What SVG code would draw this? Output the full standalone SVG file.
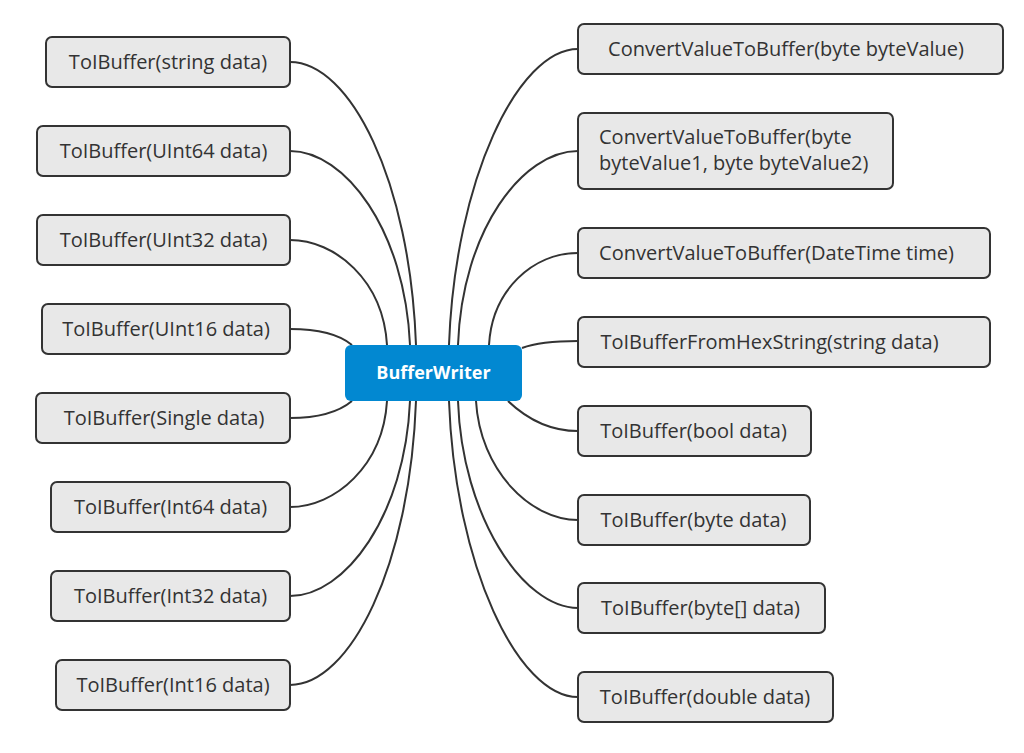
<svg xmlns="http://www.w3.org/2000/svg" width="1024" height="753" viewBox="0 0 1024 753">
<style>
.n rect{fill:#e8e8e8;stroke:#333;stroke-width:2}
.n text{font-family:"Open Sans","Noto Sans",sans-serif;font-size:20px;fill:#333;text-anchor:middle;dominant-baseline:central}
.c path{fill:none;stroke:#333;stroke-width:2}
</style>
<rect width="1024" height="753" fill="#fff"/>
<g class="c" id="connectors">
<path d="M290,62 C350,62 410,180 416,345"/>
<path d="M290,151 C345,151 405,230 410,345"/>
<path d="M290,240 C335,240 383,280 387,345"/>
<path d="M290,329 C320,329 340,335 352,345"/>
<path d="M290,418 C320,418 340,411 352,401"/>
<path d="M290,507 C335,507 383,466 387,401"/>
<path d="M290,596 C345,596 405,516 410,401"/>
<path d="M290,685 C350,685 410,566 416,401"/>
<path d="M578,49 C518,49 455,180 449,345"/>
<path d="M578,151 C523,151 462,230 458,345"/>
<path d="M578,253 C533,253 492,290 489,345"/>
<path d="M578,341 C550,341 535,343 522,348"/>
<path d="M578,431 C550,431 528,420 508,401"/>
<path d="M578,520 C530,520 480,470 476,401"/>
<path d="M578,608 C523,608 462,516 458,401"/>
<path d="M578,697 C518,697 455,566 449,401"/>
</g>
<g id="center">
<rect x="345" y="345" width="177" height="56" rx="6" fill="#0288d1"/>
<text x="433.5" y="371.5" font-family="'Open Sans','Noto Sans',sans-serif" font-size="18" font-weight="bold" fill="#fff" text-anchor="middle" dominant-baseline="central">BufferWriter</text>
</g>
<g class="n" id="l1"><rect x="46" y="37" width="244" height="50" rx="6"/><text x="168" y="61">ToIBuffer(string data)</text></g>
<g class="n" id="l2"><rect x="37" y="126" width="253" height="50" rx="6"/><text x="163.5" y="150">ToIBuffer(UInt64 data)</text></g>
<g class="n" id="l3"><rect x="37" y="215" width="253" height="50" rx="6"/><text x="163.5" y="239">ToIBuffer(UInt32 data)</text></g>
<g class="n" id="l4"><rect x="42" y="304" width="248" height="50" rx="6"/><text x="166" y="328">ToIBuffer(UInt16 data)</text></g>
<g class="n" id="l5"><rect x="36" y="393" width="254" height="50" rx="6"/><text x="164" y="417">ToIBuffer(Single data)</text></g>
<g class="n" id="l6"><rect x="51" y="482" width="239" height="50" rx="6"/><text x="170.5" y="506">ToIBuffer(Int64 data)</text></g>
<g class="n" id="l7"><rect x="51" y="571" width="239" height="50" rx="6"/><text x="170.5" y="595">ToIBuffer(Int32 data)</text></g>
<g class="n" id="l8"><rect x="56" y="660" width="234" height="50" rx="6"/><text x="173" y="684">ToIBuffer(Int16 data)</text></g>
<g class="n" id="r1"><rect x="578" y="24" width="425" height="50" rx="6"/><text x="786" y="48">ConvertValueToBuffer(byte byteValue)</text></g>
<g class="n" id="r2"><rect x="578" y="113" width="315" height="76" rx="6"/><text x="599" y="136" style="text-anchor:start">ConvertValueToBuffer(byte</text><text x="599" y="162" style="text-anchor:start">byteValue1, byte byteValue2)</text></g>
<g class="n" id="r3"><rect x="578" y="228" width="412" height="50" rx="6"/><text x="776.5" y="252">ConvertValueToBuffer(DateTime time)</text></g>
<g class="n" id="r4"><rect x="578" y="317" width="412" height="50" rx="6"/><text x="769.5" y="341">ToIBufferFromHexString(string data)</text></g>
<g class="n" id="r5"><rect x="578" y="406" width="233" height="50" rx="6"/><text x="693.5" y="430">ToIBuffer(bool data)</text></g>
<g class="n" id="r6"><rect x="578" y="495" width="232" height="50" rx="6"/><text x="693.5" y="519">ToIBuffer(byte data)</text></g>
<g class="n" id="r7"><rect x="578" y="583" width="247" height="50" rx="6"/><text x="700.5" y="607">ToIBuffer(byte[] data)</text></g>
<g class="n" id="r8"><rect x="578" y="672" width="255" height="50" rx="6"/><text x="705" y="696">ToIBuffer(double data)</text></g>
</svg>
